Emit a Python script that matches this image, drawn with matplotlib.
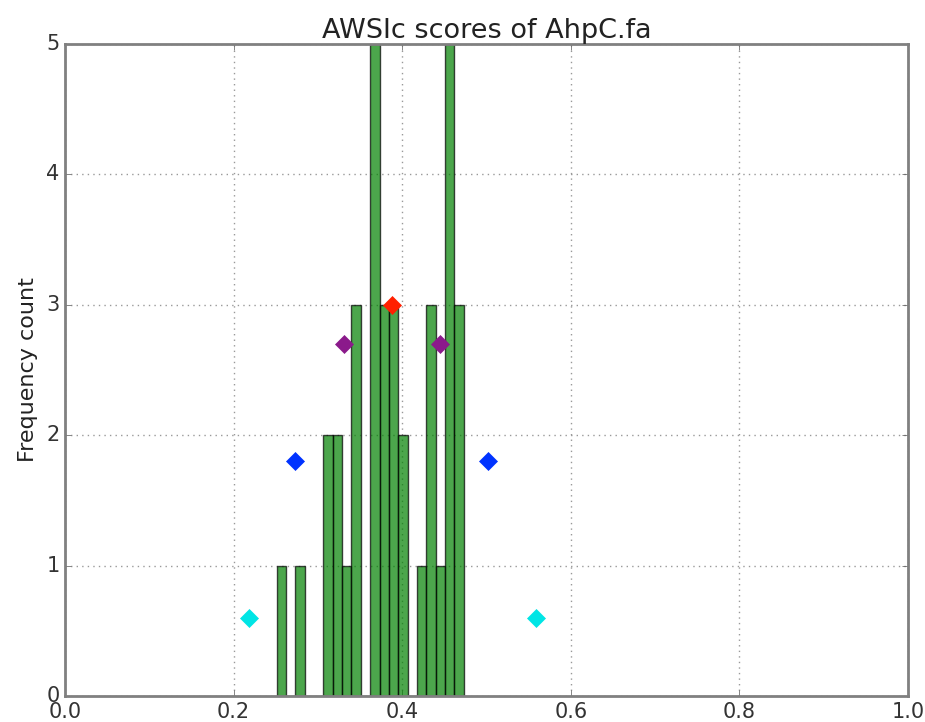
import matplotlib
matplotlib.use("Agg")
import matplotlib.pyplot as plt
import numpy as np

plt.style.use("classic")

# Histogram data (20 equal bins between score_min and score_max)
score_min = 0.251
score_max = 0.473
counts = [1, 0, 1, 0, 0, 2, 2, 1, 3, 0, 5, 3, 3, 2, 0, 1, 3, 1, 5, 3]

# Summary markers (mean and +/- 1, 2, 3 std)
marker_x = [0.218, 0.273, 0.331, 0.388, 0.445, 0.502, 0.559]
marker_y = [0.6, 1.8, 2.7, 3.0, 2.7, 1.8, 0.6]
marker_colors = ["#00e5e5", "#0033ff", "#8b1a8b", "#ff2000", "#8b1a8b", "#0033ff", "#00e5e5"]

title = "AWSIc scores of AhpC.fa"
ylabel = "Frequency count"

fig = plt.figure(figsize=(9.25, 7.22), dpi=100, facecolor="white")
ax = fig.add_axes([65 / 925, 26 / 722, (908 - 65) / 925, (696 - 44) / 722])

edges = np.linspace(score_min, score_max, len(counts) + 1)
centers = (edges[:-1] + edges[1:]) / 2
ax.hist(centers, bins=edges, weights=counts, color="green", alpha=0.7,
        edgecolor="black", linewidth=1.0)

for x, y, c in zip(marker_x, marker_y, marker_colors):
    ax.plot([x], [y], marker="D", markersize=9, color=c,
            markeredgecolor=c, linestyle="none")

ax.set_xlim(0, 1)
ax.set_ylim(0, 5)
ax.set_xticks([0.0, 0.2, 0.4, 0.6, 0.8, 1.0])
ax.set_yticks([0, 1, 2, 3, 4, 5])
ax.grid(True, linestyle=":", color="#999999", linewidth=1.0)
ax.set_axisbelow(True)
for s in ax.spines.values():
    s.set_color("#808080")
    s.set_linewidth(2)
ax.tick_params(labelsize=15, colors="#555555", labelcolor="#333333")
ax.set_title(title, fontsize=19.5, color="#222222", pad=4)
ax.set_ylabel(ylabel, fontsize=16, color="#222222", labelpad=6)

fig.savefig("out.png", dpi=100, facecolor="white")
